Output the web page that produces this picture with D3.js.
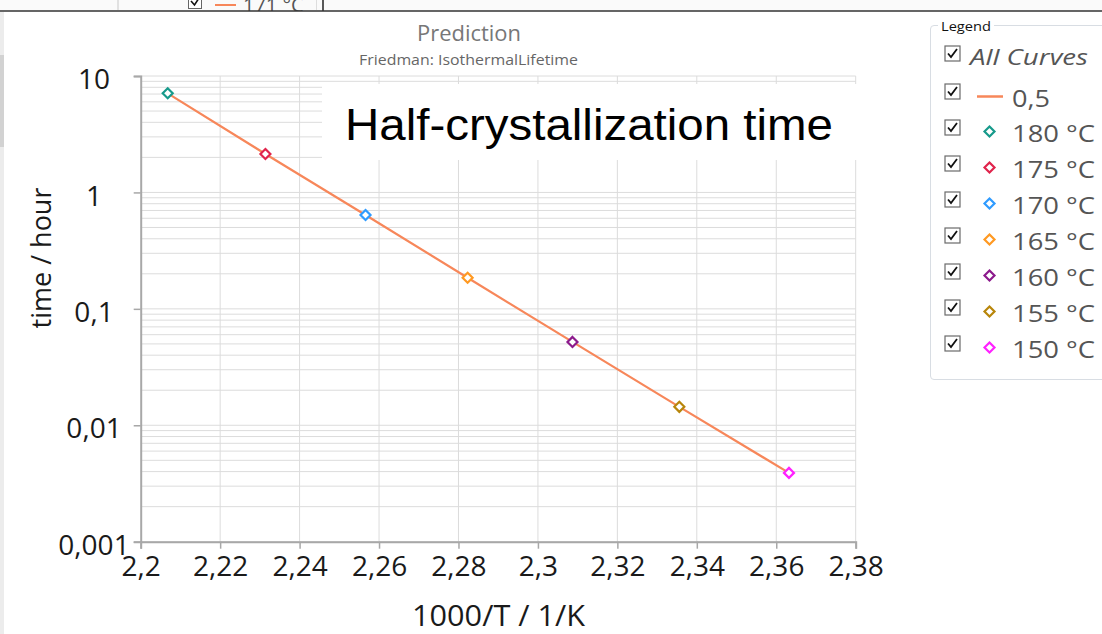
<!DOCTYPE html>
<html>
<head>
<meta charset="utf-8">
<script src="https://cdn.jsdelivr.net/npm/d3@7"></script>
<style>
  html, body { margin: 0; padding: 0; background: #fff; }
  svg { display: block; font-family: "Open Sans", "Noto Sans", sans-serif; }
</style>
</head>
<body>
<svg id="chart" width="1102" height="634"></svg>
<script>
// Isothermal temperatures (°C) and their inverse temperatures 1000/T (1/K)
const temperatures = [180, 175, 170, 165, 160, 155, 150];
const inverseT = [2.2068, 2.2314, 2.2566, 2.2823, 2.3087, 2.3356, 2.3632];
// Predicted half-crystallization time (hours) at conversion 0,5
const halfTimes = [7.1, 2.14, 0.64, 0.185, 0.052, 0.0144, 0.0039];
const markerColors = ["#179a8b", "#e0244c", "#2f9bff", "#ff9922", "#8c1a8c", "#b8860b", "#ff22ff"];
const lineColor = "#f7875a";
const curveName = "0,5";

const xTicks = [2.2, 2.22, 2.24, 2.26, 2.28, 2.3, 2.32, 2.34, 2.36, 2.38];
const xTickLabels = ["2,2", "2,22", "2,24", "2,26", "2,28", "2,3", "2,32", "2,34", "2,36", "2,38"];
const yTicks = [0.001, 0.01, 0.1, 1, 10];
const yTickLabels = ["0,001", "0,01", "0,1", "1", "10"];

const svg = d3.select("#chart");

const plot = { left: 140.7, right: 855.7, top: 76, bottom: 541.7 };
const x = d3.scaleLinear().domain([2.2, 2.38]).range([plot.left, plot.right]);
const y = d3.scaleLog().domain([0.001, 10]).range([plot.bottom, plot.top]);

// ---- window chrome: strip of the neighbouring panel and the left gutter ----
svg.append("rect").attr("x", 0).attr("y", 0).attr("width", 1102).attr("height", 11).attr("fill", "#fafafa");
svg.append("line").attr("x1", 118).attr("x2", 118).attr("y1", 0).attr("y2", 10).attr("stroke", "#c8c8c8");
svg.append("rect").attr("x", 188.5).attr("y", -4.5).attr("width", 13).attr("height", 13)
  .attr("fill", "#fff").attr("stroke", "#666");
svg.append("path").attr("d", "M191,1 L194.5,5 L199,-2").attr("fill", "none").attr("stroke", "#111").attr("stroke-width", 1.6);
svg.append("line").attr("x1", 215).attr("x2", 236).attr("y1", 5).attr("y2", 5).attr("stroke", lineColor).attr("stroke-width", 2);
svg.append("text").attr("x", 243).attr("y", 12).attr("font-size", 20).attr("fill", "#555").text("171 °C");
svg.append("line").attr("x1", 316.5).attr("x2", 316.5).attr("y1", 0).attr("y2", 10).attr("stroke", "#ddd");
svg.append("line").attr("x1", 323).attr("x2", 323).attr("y1", 0).attr("y2", 11).attr("stroke", "#222").attr("stroke-width", 1.5);
svg.append("rect").attr("x", 0).attr("y", 11).attr("width", 1102).attr("height", 623).attr("fill", "#fff");
svg.append("line").attr("x1", 0).attr("x2", 1102).attr("y1", 11).attr("y2", 11).attr("stroke", "#333").attr("stroke-width", 1.6);
svg.append("rect").attr("x", 0).attr("y", 12).attr("width", 4).attr("height", 622).attr("fill", "#ececec");
svg.append("rect").attr("x", 0).attr("y", 55).attr("width", 4).attr("height", 92).attr("fill", "#d2d2d2");

// ---- titles ----
svg.append("text").attr("x", 417).attr("y", 41)
  .attr("font-size", 21.5).attr("fill", "#777")
  .attr("textLength", 104).attr("lengthAdjust", "spacingAndGlyphs").text("Prediction");
svg.append("text").attr("x", 359).attr("y", 65)
  .attr("font-size", 14).attr("fill", "#666")
  .attr("textLength", 219).attr("lengthAdjust", "spacingAndGlyphs").text("Friedman: IsothermalLifetime");

// ---- grid ----
const grid = svg.append("g").attr("stroke", "#dcdcdc").attr("stroke-width", 1);
const minorY = [];
for (let e = -3; e < 1; e++) {
  for (let m = 1; m <= 9; m++) minorY.push(m * Math.pow(10, e));
}
minorY.push(10);
grid.selectAll("line.h").data(minorY).join("line").attr("class", "h")
  .attr("x1", plot.left).attr("x2", plot.right)
  .attr("y1", d => y(d)).attr("y2", d => y(d));
grid.selectAll("line.v").data(xTicks.slice(1)).join("line").attr("class", "v")
  .attr("x1", d => x(d)).attr("x2", d => x(d))
  .attr("y1", plot.top).attr("y2", plot.bottom);

// white panel behind the annotation
svg.append("rect").attr("x", 322).attr("y", 84).attr("width", 540).attr("height", 76).attr("fill", "#fff");
svg.append("text").attr("x", 345).attr("y", 140)
  .style("font-family", "'Liberation Sans', Arial, sans-serif")
  .attr("font-size", 44).attr("fill", "#000")
  .attr("textLength", 488).attr("lengthAdjust", "spacingAndGlyphs")
  .text("Half-crystallization time");

// ---- axes ----
const xAxis = d3.axisBottom(x).tickValues(xTicks).tickSize(7).tickPadding(7)
  .tickFormat((d, i) => xTickLabels[i]);
const gx = svg.append("g").attr("transform", `translate(0,${plot.bottom})`).call(xAxis);
gx.attr("font-family", null);
gx.select(".domain").attr("stroke", "#a8a8a8").attr("stroke-width", 2);
gx.selectAll(".tick line").attr("stroke", "#a8a8a8").attr("stroke-width", 1.5);
gx.selectAll(".tick text").attr("font-size", 28).attr("fill", "#1a1a1a");

const yAxis = d3.axisLeft(y).tickValues(yTicks).tickSize(7).tickPadding(0)
  .tickFormat((d, i) => yTickLabels[i]);
const gy = svg.append("g").attr("transform", `translate(${plot.left},0)`).call(yAxis);
gy.attr("font-family", null);
gy.select(".domain").attr("stroke", "#a8a8a8").attr("stroke-width", 2);
gy.selectAll(".tick line").attr("stroke", "#a8a8a8").attr("stroke-width", 1.5);
gy.selectAll(".tick text").attr("font-size", 28).attr("fill", "#1a1a1a")
  .attr("text-anchor", "middle").attr("x", 94 - plot.left).attr("dy", "0.45em");

svg.append("text").attr("x", 412).attr("y", 626)
  .attr("font-size", 29).attr("fill", "#1a1a1a")
  .attr("textLength", 173).attr("lengthAdjust", "spacingAndGlyphs").text("1000/T / 1/K");
svg.append("text").attr("transform", "translate(51,258) rotate(-90)").attr("text-anchor", "middle")
  .attr("font-size", 27).attr("fill", "#1a1a1a").text("time / hour");

// ---- data ----
const pts = inverseT.map((v, i) => ({ x: v, t: halfTimes[i], c: markerColors[i] }));
svg.append("path").datum(pts)
  .attr("d", d3.line().x(d => x(d.x)).y(d => y(d.t)))
  .attr("fill", "none").attr("stroke", lineColor).attr("stroke-width", 2.2);

const diamond = s => `M0,${-s} L${s},0 L0,${s} L${-s},0 Z`;
svg.selectAll("path.pt").data(pts).join("path").attr("class", "pt")
  .attr("transform", d => `translate(${x(d.x)},${y(d.t)})`)
  .attr("d", diamond(5))
  .attr("fill", "#fff").attr("stroke", d => d.c).attr("stroke-width", 2.2);

// ---- legend ----
const lg = svg.append("g");
lg.append("path")
  .attr("d", "M938,25.5 L934,25.5 Q930.5,25.5 930.5,29 L930.5,376 Q930.5,379.5 934,379.5 L1110,379.5 M994,25.5 L1110,25.5")
  .attr("fill", "none").attr("stroke", "#d8dde3").attr("stroke-width", 1);
lg.append("text").attr("x", 941).attr("y", 31).attr("font-size", 13).attr("fill", "#111")
  .attr("textLength", 50).attr("lengthAdjust", "spacingAndGlyphs").text("Legend");

function checkbox(cx, cy) {
  lg.append("rect").attr("x", cx - 7.5).attr("y", cy - 7.5).attr("width", 15).attr("height", 15)
    .attr("fill", "#fff").attr("stroke", "#6a6a6a").attr("stroke-width", 1.2);
  lg.append("path").attr("d", `M${cx - 4.5},${cy} L${cx - 1.5},${cy + 3.5} L${cx + 4.5},${cy - 4.5}`)
    .attr("fill", "none").attr("stroke", "#111").attr("stroke-width", 1.8);
}

checkbox(952.5, 53.5);
lg.append("text").attr("x", 970).attr("y", 65).attr("font-size", 22.5).attr("font-style", "italic")
  .attr("fill", "#555").attr("textLength", 118).attr("lengthAdjust", "spacingAndGlyphs").text("All Curves");

const rowY = d3.range(8).map(i => 91.5 + i * 36);
checkbox(952.5, rowY[0]);
lg.append("line").attr("x1", 977).attr("x2", 1003).attr("y1", rowY[0] + 5).attr("y2", rowY[0] + 5)
  .attr("stroke", lineColor).attr("stroke-width", 2.5);
lg.append("text").attr("x", 1012).attr("y", rowY[0] + 15).attr("font-size", 23).attr("fill", "#555")
  .attr("textLength", 38).attr("lengthAdjust", "spacingAndGlyphs").text(curveName);

temperatures.forEach((tC, i) => {
  const ry = rowY[i + 1];
  checkbox(952.5, ry);
  lg.append("path").attr("transform", `translate(989.5,${ry + 4})`).attr("d", diamond(5))
    .attr("fill", "#fff").attr("stroke", markerColors[i]).attr("stroke-width", 2.2);
  lg.append("text").attr("x", 1012).attr("y", ry + 14).attr("font-size", 23.5).attr("fill", "#555")
    .attr("textLength", 83).attr("lengthAdjust", "spacingAndGlyphs").text(`${tC} °C`);
});
</script>
</body>
</html>
